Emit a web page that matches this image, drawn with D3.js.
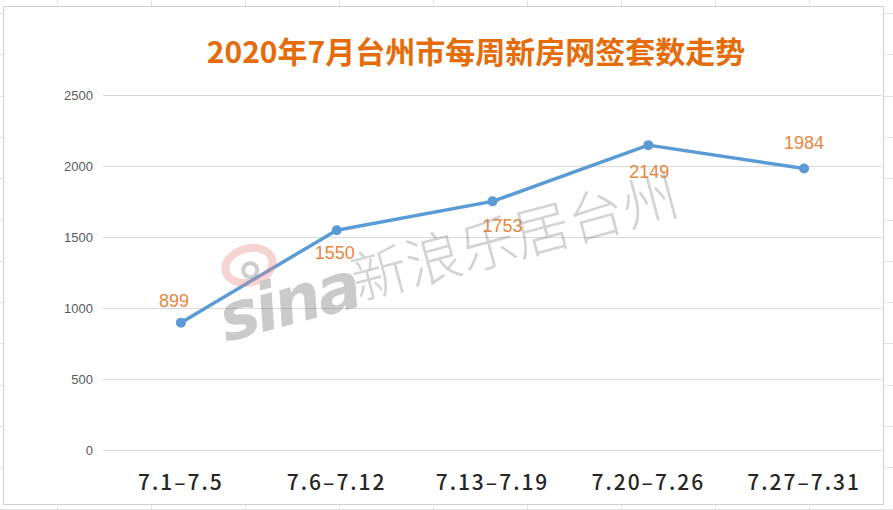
<!DOCTYPE html>
<html><head><meta charset="utf-8">
<script src="https://cdn.jsdelivr.net/npm/d3@7"></script>
<style>body{margin:0;background:#fff;overflow:hidden}</style>
</head><body>
<svg id="c" width="893" height="510"></svg>
<script>
const title = "2020年7月台州市每周新房网签套数走势";
const categories = ["7.1–7.5", "7.6–7.12", "7.13–7.19", "7.20–7.26", "7.27–7.31"];
const values = [899, 1550, 1753, 2149, 1984];
const yTicks = [0, 500, 1000, 1500, 2000, 2500];
const labelPlacement = ["above", "below", "below", "below", "above"];
const labelNudgeX = [-7, -2, 10, 1, 0];
const labelNudgeY = [0, -2, 0, 2, -4];
const watermarkText = "新浪乐居台州";

const W = 893, H = 510;
const svg = d3.select("#c");

// spreadsheet background grid
const bg = svg.append("g");
for (let x = 57; x < W; x += 94) {
  bg.append("line").attr("x1", x + 0.5).attr("x2", x + 0.5).attr("y1", 0).attr("y2", H)
    .attr("stroke", "#e3e3e3");
}
for (let y = 13; y < H; y += 41.3) {
  bg.append("line").attr("x1", 0).attr("x2", W).attr("y1", Math.round(y) + 0.5).attr("y2", Math.round(y) + 0.5)
    .attr("stroke", "#e3e3e3");
}
// chart box
svg.append("rect").attr("x", 3.5).attr("y", 6.5).attr("width", 880).attr("height", 498)
  .attr("fill", "#fff").attr("stroke", "#d0d0d0");

const x = d3.scaleBand().domain(categories).range([103, 882]).padding(0);
const y = d3.scaleLinear().domain([0, 2500]).range([450.3, 95.3]);
const cx = d => x(d) + x.bandwidth() / 2;

// gridlines
const yAxis = d3.axisLeft(y).tickValues(yTicks).tickSize(-(882 - 103)).tickPadding(10).tickFormat(d3.format("d"));
const ga = svg.append("g").attr("transform", "translate(103,0)").call(yAxis);
ga.select(".domain").remove();
ga.selectAll(".tick line").attr("stroke", "#d9d9d9").attr("shape-rendering", "crispEdges");
ga.selectAll(".tick text").attr("fill", "#595959").attr("font-size", 13)
  .attr("font-family", "'Liberation Sans', Arial, sans-serif");

// x labels
const xAxis = d3.axisBottom(x).tickSize(0).tickPadding(0);
const gx = svg.append("g").attr("transform", "translate(0,450)").call(xAxis);
gx.select(".domain").remove();
gx.selectAll(".tick text").attr("fill", "#262626").attr("font-size", 21).attr("font-weight", 500)
  .attr("letter-spacing", 2)
  .attr("font-family", "'Noto Sans CJK SC', sans-serif")
  .attr("y", 40).attr("dy", 0);

// title
svg.append("text").attr("x", 476).attr("y", 63).attr("text-anchor", "middle")
  .attr("font-family", "'Noto Sans CJK SC', sans-serif").attr("font-weight", 700)
  .attr("font-size", 30).attr("fill", "#E46C0A").text(title);

// line
const line = d3.line().x((d, i) => cx(categories[i])).y(d => y(d));
svg.append("path").datum(values).attr("d", line).attr("fill", "none")
  .attr("stroke", "#5B9BD5").attr("stroke-width", 3.5).attr("stroke-linejoin", "round");
svg.selectAll("circle.pt").data(values).join("circle").attr("class", "pt")
  .attr("cx", (d, i) => cx(categories[i])).attr("cy", d => y(d)).attr("r", 5)
  .attr("fill", "#5B9BD5");

// data labels
svg.selectAll("text.lbl").data(values).join("text").attr("class", "lbl")
  .attr("x", (d, i) => cx(categories[i]) + labelNudgeX[i])
  .attr("y", (d, i) => y(d) + (labelPlacement[i] === "above" ? -16 : 31) + labelNudgeY[i])
  .attr("text-anchor", "middle").attr("font-size", 18)
  .attr("font-family", "'Liberation Sans', Arial, sans-serif")
  .attr("fill", "#E5873D").text(d => d);

// watermark
const wm = svg.append("g").attr("opacity", 0.36)
  .attr("transform", "translate(226,342) rotate(-15)");
wm.append("ellipse").attr("cx", 42).attr("cy", -68).attr("rx", 24).attr("ry", 17)
  .attr("fill", "none").attr("stroke", "#e98a8a").attr("stroke-width", 8);
wm.append("circle").attr("cx", 42).attr("cy", -63).attr("r", 7)
  .attr("fill", "none").attr("stroke", "#777").attr("stroke-width", 4);
wm.append("text").attr("x", 0).attr("y", 0).attr("font-family", "'DejaVu Sans', sans-serif")
  .attr("font-weight", 700).attr("font-style", "italic").attr("font-size", 66)
  .attr("letter-spacing", -3)
  .attr("fill", "#6e6e6e").text("sina");
wm.append("text").attr("x", 138).attr("y", -6).attr("font-family", "'Noto Sans CJK SC', sans-serif")
  .attr("font-weight", 300).attr("font-size", 56).attr("fill", "#888").text(watermarkText);
</script>
</body></html>
